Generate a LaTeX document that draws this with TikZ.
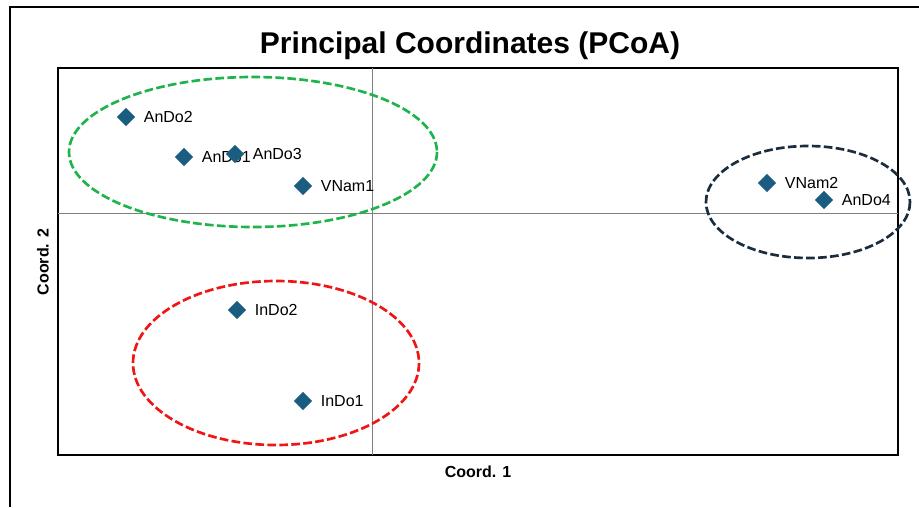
\documentclass[tikz,border=0pt]{standalone}
\usepackage{fontspec}
\setmainfont{Liberation Sans}
\usepackage{xcolor}
\usepackage{tikz}
\usetikzlibrary{shapes.geometric}

\definecolor{ptblue}{RGB}{27,93,128}
\definecolor{grpgreen}{RGB}{30,180,75}
\definecolor{grpred}{RGB}{240,20,20}
\definecolor{grpnavy}{RGB}{25,45,62}

\tikzset{
  sample/.style={diamond, fill=ptblue, inner sep=0pt, minimum size=14pt,
    label={[label distance=6pt, inner sep=0pt, font=\fontsize{12}{14}\selectfont]right:#1}},
  group/.style={dashed, line width=2pt, dash pattern=on 6.5pt off 2.5pt},
  frame/.style={line width=1.9pt}
}

\begin{document}
\begin{tikzpicture}[x=0.75pt, y=-0.75pt]
  \useasboundingbox (0,0) rectangle (919,507);

  % outer frame (cut off at the right and bottom)
  \draw [frame] (10,507) -- (10,7) -- (919,7);

  % title
  \node (title) at (470,46) {\fontsize{22.5}{26}\selectfont\bfseries Principal Coordinates (PCoA)};

  % plot box and axes
  \draw [frame] (58,68) rectangle (898,455);
  \draw [gray, line width=0.7pt] (372,68) -- (372,455);
  \draw [gray, line width=0.7pt] (58,213) -- (898,213);

  \node (xlab) at (478,472) {\fontsize{12}{14}\selectfont\bfseries Coord. 1};
  \node [rotate=90] (ylab) at (43,262) {\fontsize{12}{14}\selectfont\bfseries Coord. 2};

  % groups
  \draw [group, grpgreen] (253,152) ellipse [x radius=184, y radius=75];
  \draw [group, grpred] (276,363) ellipse [x radius=143, y radius=82];
  \draw [group, grpnavy] (808,202) ellipse [x radius=102, y radius=56];

  % samples
  \node [sample=AnDo2] (AnDo2) at (126,117) {};
  \node [sample=AnDo1] (AnDo1) at (184,157) {};
  \node [sample=AnDo3] (AnDo3) at (235,154) {};
  \node [sample=VNam1] (VNam1) at (303,186) {};
  \node [sample=VNam2] (VNam2) at (767,183) {};
  \node [sample=AnDo4] (AnDo4) at (824,200) {};
  \node [sample=InDo2] (InDo2) at (237,310) {};
  \node [sample=InDo1] (InDo1) at (303,401) {};
\end{tikzpicture}
\end{document}
